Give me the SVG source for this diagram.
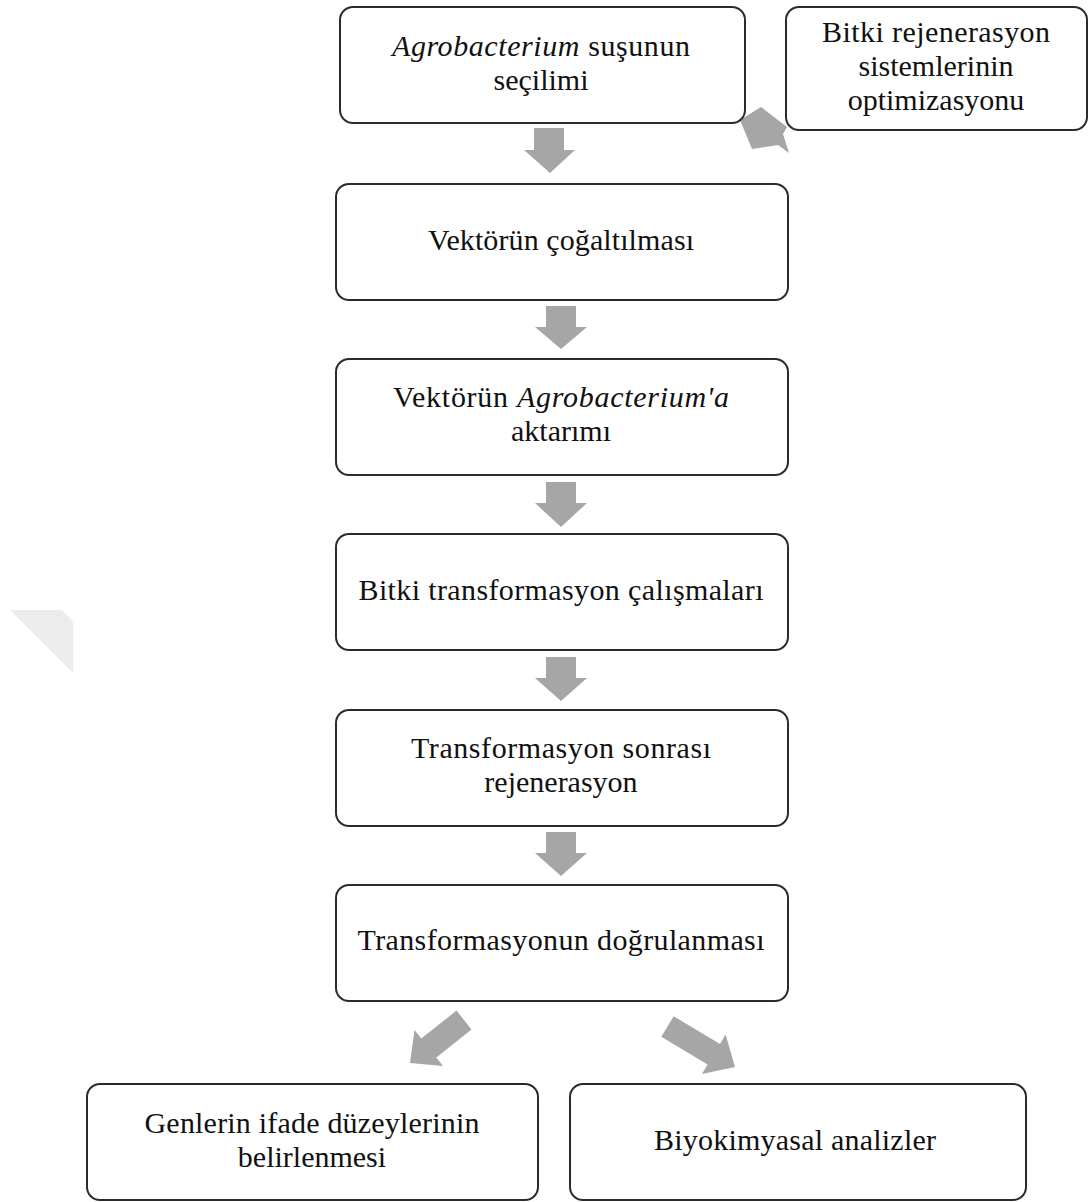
<svg xmlns="http://www.w3.org/2000/svg" width="1089" height="1202" viewBox="0 0 1089 1202">
<style>
.box{fill:#ffffff;stroke:#2b2b2b;stroke-width:2}
.arr{fill:#a6a6a6}
.t{font-family:"Liberation Serif","Times New Roman",serif;font-size:30px;fill:#111111;text-anchor:middle}
.i{font-style:italic}
</style>
<rect width="1089" height="1202" fill="#ffffff"/>
<polygon points="10,610 62,610 73,622 73,673" fill="#ececec"/>
<g id="connectors">
<polygon class="arr" points="761,107 740,120 752,149 778,145 789,153 783,134 787,127"/>
<polygon class="arr" points="534,128 564,128 564,150 575,150 550,173 524,150 534,150"/>
<polygon class="arr" points="546,306 576,306 576,327 587,327 561,349 535,327 546,327"/>
<polygon class="arr" points="546,482 576,482 576,503 587,503 561,527 535,503 546,503"/>
<polygon class="arr" points="546,657 576,657 576,678 587,678 561,701 535,678 546,678"/>
<polygon class="arr" points="546,832 576,832 576,853 587,853 561,876 535,853 546,853"/>
<polygon class="arr" points="456.5,1010.6 471.5,1029.4 436.3,1057.4 443.1,1066 410,1063 414.5,1030 421.3,1038.6"/>
<polygon class="arr" points="673.7,1016.2 720,1044 725.6,1034.6 735,1067 702,1074 707.6,1064.6 661.3,1036.8"/>
</g>
<g id="n1">
<rect class="box" x="340" y="7" width="405" height="116" rx="13"/>
<text class="t" x="541" y="56" textLength="298"><tspan class="i">Agrobacterium</tspan> suşunun</text>
<text class="t" x="541" y="90">seçilimi</text>
</g>
<g id="n2">
<rect class="box" x="786" y="7" width="301" height="123" rx="13"/>
<text class="t" x="936" y="42" textLength="228">Bitki rejenerasyon</text>
<text class="t" x="936" y="76">sistemlerinin</text>
<text class="t" x="936" y="110">optimizasyonu</text>
</g>
<g id="n3">
<rect class="box" x="336" y="184" width="452" height="116" rx="13"/>
<text class="t" x="561" y="250" textLength="266">Vektörün çoğaltılması</text>
</g>
<g id="n4">
<rect class="box" x="336" y="359" width="452" height="116" rx="13"/>
<text class="t" x="561" y="407" textLength="336">Vektörün <tspan class="i">Agrobacterium'a</tspan></text>
<text class="t" x="561" y="441">aktarımı</text>
</g>
<g id="n5">
<rect class="box" x="336" y="534" width="452" height="116" rx="13"/>
<text class="t" x="561" y="600" textLength="405">Bitki transformasyon çalışmaları</text>
</g>
<g id="n6">
<rect class="box" x="336" y="710" width="452" height="116" rx="13"/>
<text class="t" x="561" y="758" textLength="300">Transformasyon sonrası</text>
<text class="t" x="561" y="792">rejenerasyon</text>
</g>
<g id="n7">
<rect class="box" x="336" y="885" width="452" height="116" rx="13"/>
<text class="t" x="561" y="950" textLength="407">Transformasyonun doğrulanması</text>
</g>
<g id="n8">
<rect class="box" x="87" y="1084" width="451" height="116" rx="13"/>
<text class="t" x="312" y="1133" textLength="335">Genlerin ifade düzeylerinin</text>
<text class="t" x="312" y="1167">belirlenmesi</text>
</g>
<g id="n9">
<rect class="box" x="570" y="1084" width="456" height="116" rx="13"/>
<text class="t" x="795" y="1150" textLength="282">Biyokimyasal analizler</text>
</g>
</svg>
